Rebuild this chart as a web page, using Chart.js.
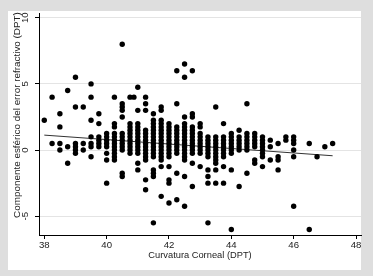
<!DOCTYPE html>
<html>
<head>
<meta charset="utf-8">
<script src="https://cdn.jsdelivr.net/npm/chart.js@4"></script>
<style>
  html, body { margin: 0; padding: 0; background: #dedede; }
  canvas { display: block; }
</style>
</head>
<body>
<canvas id="grafico" width="373" height="276"></canvas>
<script>
// Curvatura corneal (DPT) por columna y valores del componente esferico en cada una
const curvatura = [38, 38.25, 38.5, 38.75, 39, 39.25, 39.5, 39.75, 40, 40.25, 40.5, 40.75, 40.875,
    41, 41.25, 41.5, 41.75, 42, 42.25, 42.5, 42.75, 43, 43.25, 43.5, 43.75, 44, 44.25, 44.5,
    44.75, 45, 45.25, 45.5, 45.75, 46, 46.5, 46.75, 47, 47.25];
const esferico = [
    [2.25],
    [4, 0.5],
    [2.75, 1.75, 0.5, 0],
    [4.5, 0.25, -1],
    [5.5, 3.25, 0.5, 0.25, 0, -0.25],
    [3.25, 0.5, 0],
    [5, 4, 2.25, 1, 0.5, 0.25, -0.5],
    [2.75, 2, 1, 0.75, 0.5, 0.25],
    [1.25, 1, 0.75, 0.5, 0.25, -0.25, -0.75, -2.5],
    [4, 2, 1.75, 1.25, 1, 0.75, 0.5, 0.25, 0, -0.25, -0.5, -0.75],
    [8, 3.5, 3.25, 3, 2.5, 1.25, 1, 0.75, 0.5, 0.25, 0, -1.75, -2],
    [4, 2, 1.75, 1.5, 1.25, 1, 0.75, 0.5, 0.25, 0, -0.25],
    [4],
    [4.75, 3, 2, 1.75, 1.5, 1.25, 1, 0.75, 0.5, 0.25, 0, -0.25, -1, -1.5],
    [4, 3.5, 3, 1.5, 1.25, 1, 0.75, 0.5, 0.25, 0, -0.25, -0.5, -0.75, -2.25, -3],
    [2.75, 2.25, 2, 1.75, 1.5, 1.25, 1, 0.75, 0.5, 0.25, 0, -0.25, -0.5, -1.5, -1.75, -2, -5.5],
    [3.25, 3, 2.25, 2, 1.75, 1.5, 1.25, 1, 0.75, 0.5, 0.25, 0, -0.25, -0.5, -0.75, -1.25, -3.5],
    [2, 1.75, 1.5, 1.25, 1, 0.75, 0.5, 0.25, 0, -0.25, -0.5, -1.25, -2.25, -2.5, -4],
    [6, 3.5, 1.75, 1.5, 1.25, 1, 0.75, 0.5, 0.25, 0, -0.25, -1.75, -3.75],
    [6.5, 5.5, 2.5, 2, 1.75, 1.5, 1.25, 1, 0.75, 0.5, 0.25, 0, -0.25, -0.5, -0.75, -2, -4.25],
    [6, 2.75, 2.5, 1.75, 1.5, 1.25, 1, 0.75, 0.5, 0.25, 0, -0.25, -1, -2.75],
    [2, 1.75, 1.25, 1, 0.75, 0.5, 0.25, 0, -0.25, -1.25],
    [1, 0.75, 0.5, 0.25, 0, -0.25, -0.5, -1.5, -2, -2.5, -5.5],
    [3.25, 1, 0.75, 0.5, 0.25, 0, -0.25, -0.5, -0.75, -1, -1.5, -2.5],
    [2, 1, 0.75, 0.5, 0.25, 0, -0.25, -0.5, -1.25, -2.5],
    [1.25, 1, 0.75, 0.5, 0.25, 0, -0.25, -1.5, -6],
    [1.5, 1, 0.75, 0.5, 0.25, 0, -2.75],
    [3.5, 1.25, 1, 0.75, 0.5, 0.25, 0, -1.75],
    [1.25, 1, 0.75, 0.5, 0.25, -0.75, -1],
    [1, 0.75, 0.5, 0.25, 0, -0.25, -0.5, -1.25],
    [0.75, 0.25, -0.75],
    [0.5, -0.5, -0.75, -1.5],
    [1, 0.75],
    [1, 0.75, 0.5, 0, -0.5, -4.25],
    [0.5, -6],
    [-0.5],
    [0.25],
    [0.5]
];

// Recta de ajuste (extremos)
const ajusteX = [38, 47.25];
const ajusteY = [1.13, -0.43];

const xTicks = [38, 40, 42, 44, 46, 48];
const yTicks = [-5, 0, 5, 10];
const tituloX = 'Curvatura Corneal (DPT)';
const tituloY = 'Componente esférico del error refractivo (DPT)';

const fuente = 'Liberation Sans, Arial, Helvetica, sans-serif';
const colorTexto = '#222';

const puntos = curvatura.flatMap((x, i) => esferico[i].map(y => ({ x, y })));
const recta = ajusteX.map((x, i) => ({ x, y: ajusteY[i] }));

const marco = {
    id: 'marco',
    beforeDraw(chart) {
        const ctx = chart.ctx;
        ctx.save();
        ctx.fillStyle = '#dedede';
        ctx.fillRect(0, 0, chart.width, chart.height);
        ctx.fillStyle = '#ffffff';
        ctx.fillRect(8, 11, 353, 259);
        ctx.restore();
    },
    afterDraw(chart) {
        const ctx = chart.ctx;
        const y = chart.scales.y;
        ctx.save();
        ctx.fillStyle = colorTexto;
        ctx.font = '9.6px ' + fuente;
        ctx.textAlign = 'center';
        ctx.textBaseline = 'middle';
        yTicks.forEach(v => {
            ctx.save();
            ctx.translate(25.5, y.getPixelForValue(v));
            ctx.rotate(-Math.PI / 2);
            ctx.fillText(String(v), 0, 0);
            ctx.restore();
        });
        ctx.font = '9.9px ' + fuente;
        ctx.translate(17, 115);
        ctx.rotate(-Math.PI / 2);
        ctx.fillText(tituloY, 0, 0);
        ctx.restore();
    }
};

new Chart(document.getElementById('grafico'), {
    type: 'scatter',
    data: {
        datasets: [
            {
                data: puntos,
                backgroundColor: '#000',
                borderWidth: 0,
                pointRadius: 2.7,
                pointHoverRadius: 2.7
            },
            {
                type: 'line',
                data: recta,
                borderColor: '#333',
                borderWidth: 1,
                pointRadius: 0,
                fill: false
            }
        ]
    },
    options: {
        responsive: false,
        animation: false,
        devicePixelRatio: 1,
        layout: { padding: { left: 0, top: 13, right: 12, bottom: 0 } },
        plugins: { legend: { display: false }, tooltip: { enabled: false } },
        events: [],
        scales: {
            x: {
                type: 'linear',
                min: 37.83,
                max: 48.16,
                afterBuildTicks: s => { s.ticks = xTicks.map(v => ({ value: v })); },
                afterFit: s => { s.height = 41; },
                ticks: { font: { size: 9.6, family: fuente }, color: colorTexto, padding: 1, maxRotation: 0 },
                grid: { drawOnChartArea: false, tickLength: 4, tickColor: '#000' },
                border: { color: '#000', width: 1 },
                title: {
                    display: true,
                    text: tituloX,
                    font: { size: 9.3, family: fuente },
                    color: colorTexto,
                    padding: { top: 0, bottom: 15 }
                }
            },
            y: {
                type: 'linear',
                min: -6.42,
                max: 10.36,
                afterBuildTicks: s => { s.ticks = yTicks.map(v => ({ value: v })); },
                afterFit: s => { s.width = 39; },
                ticks: { display: false },
                grid: { color: '#e4e4e4', tickLength: 4, tickColor: '#000' },
                border: { color: '#000', width: 1 }
            }
        }
    },
    plugins: [marco]
});
</script>
</body>
</html>
